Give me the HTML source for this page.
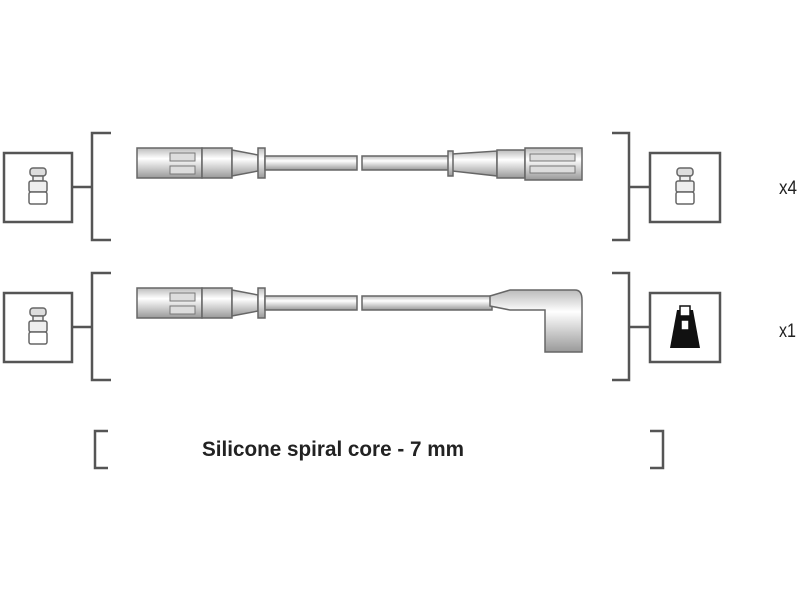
<!DOCTYPE html>
<html><head><style>body{margin:0;background:#fff}svg{display:block}</style></head><body>
<svg width="800" height="600" viewBox="0 0 800 600" xmlns="http://www.w3.org/2000/svg">
<defs>
<linearGradient id="g" x1="0" y1="0" x2="0" y2="1">
<stop offset="0" stop-color="#bbb"/><stop offset="0.35" stop-color="#fff"/><stop offset="1" stop-color="#999"/>
</linearGradient>
<g id="plug">
<rect x="-8" y="-22" width="16" height="8" rx="3" fill="#ddd" stroke="#666" stroke-width="1.5"/>
<rect x="-5" y="-14" width="10" height="5" fill="#eee" stroke="#666" stroke-width="1.5"/>
<rect x="-9" y="-9" width="18" height="11" rx="2" fill="#eee" stroke="#666" stroke-width="1.5"/>
<rect x="-9" y="2" width="18" height="12" rx="2" fill="#fff" stroke="#666" stroke-width="1.5"/>
</g>
<g id="lead">
<rect x="137" y="148" width="65" height="30" fill="url(#g)" stroke="#666" stroke-width="1.5"/>
<rect x="170" y="153" width="25" height="8" fill="#ddd" stroke="#777"/>
<rect x="170" y="166" width="25" height="8" fill="#ddd" stroke="#777"/>
<rect x="202" y="148" width="30" height="30" fill="url(#g)" stroke="#666" stroke-width="1.5"/>
<path d="M232 150 L258 155 L258 171 L232 176 Z" fill="url(#g)" stroke="#666" stroke-width="1.5"/>
<rect x="258" y="148" width="7" height="30" fill="url(#g)" stroke="#666" stroke-width="1.5"/>
<rect x="265" y="156" width="92" height="14" fill="url(#g)" stroke="#666" stroke-width="1.5"/>
</g>
</defs>
<g fill="none" stroke="#555" stroke-width="2.5">
<rect x="4" y="153" width="68" height="69"/>
<rect x="4" y="293" width="68" height="69"/>
<path d="M111 133 H92 V240 H111 M72 187 H92"/>
<path d="M111 273 H92 V380 H111 M72 327 H92"/>
<rect x="650" y="153" width="70" height="69"/>
<rect x="650" y="293" width="70" height="69"/>
<path d="M612 133 H629 V240 H612 M629 187 H650"/>
<path d="M612 273 H629 V380 H612 M629 327 H650"/>
<path d="M108 431 H95 V468 H108"/>
<path d="M650 431 H663 V468 H650"/>
</g>
<use href="#plug" x="38" y="190"/>
<use href="#plug" x="38" y="330"/>
<use href="#plug" x="685" y="190"/>
<use href="#lead"/>
<use href="#lead" y="140"/>
<rect x="362" y="156" width="90" height="14" fill="url(#g)" stroke="#666" stroke-width="1.5"/>
<rect x="362" y="296" width="130" height="14" fill="url(#g)" stroke="#666" stroke-width="1.5"/>
<!-- row1 right boot -->
<path d="M452 154 L497 151 L497 176 L452 171 Z" fill="url(#g)" stroke="#666" stroke-width="1.5"/>
<rect x="448" y="151" width="5" height="25" fill="url(#g)" stroke="#666" stroke-width="1.5"/>
<rect x="497" y="150" width="28" height="28" fill="url(#g)" stroke="#666" stroke-width="1.5"/>
<rect x="525" y="148" width="57" height="32" fill="url(#g)" stroke="#666" stroke-width="1.5"/>
<rect x="530" y="154" width="45" height="7" fill="#ddd" stroke="#777"/>
<rect x="530" y="166" width="45" height="7" fill="#ddd" stroke="#777"/>
<!-- row2 angled boot -->
<path d="M490 296 L510 290 L575 290 Q582 290 582 300 L582 352 L545 352 L545 310 L510 310 L490 306 Z" fill="url(#g)" stroke="#666" stroke-width="1.5"/>
<path d="M670 348 L677 310 L693 310 L700 348 Z" fill="#111"/>
<rect x="680" y="306" width="10" height="10" fill="#fff" stroke="#111" stroke-width="1.5"/>
<rect x="681" y="320" width="8" height="10" fill="#fff" stroke="#111" stroke-width="1.5"/>
<g font-family="Liberation Sans, sans-serif" fill="#222">
<text x="779" y="194" font-size="19" textLength="18" lengthAdjust="spacingAndGlyphs">x4</text>
<text x="779" y="337" font-size="19" textLength="17" lengthAdjust="spacingAndGlyphs">x1</text>
<text x="333" y="456" font-size="21" font-weight="bold" text-anchor="middle" textLength="262" lengthAdjust="spacingAndGlyphs">Silicone spiral core - 7 mm</text>
</g>
</svg>
</body></html>
